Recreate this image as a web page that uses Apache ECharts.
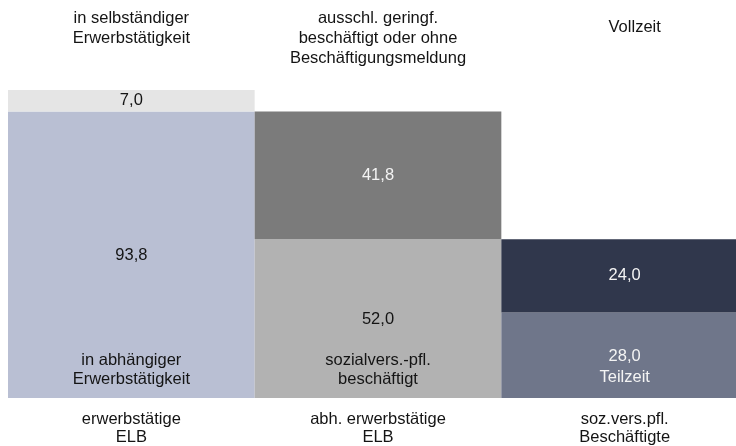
<!DOCTYPE html>
<html>
<head>
<meta charset="utf-8">
<script src="https://cdn.jsdelivr.net/npm/echarts@6/dist/echarts.min.js"></script>
<style>html,body{margin:0;padding:0;background:#fff;overflow:hidden;}#c{width:736px;height:446px;}</style>
</head>
<body>
<div id="c"></div>
<script>
const categories = ['erwerbstätige\nELB', 'abh. erwerbstätige\nELB', 'soz.vers.pfl.\nBeschäftigte'];
const lowerValues = [93.8, 52.0, 28.0];
const upperValues = [7.0, 41.8, 24.0];
const lowerNames = ['in abhängiger\nErwerbstätigkeit', 'sozialvers.-pfl.\nbeschäftigt', 'Teilzeit'];
const upperNames = ['in selbständiger\nErwerbstätigkeit', 'ausschl. geringf.\nbeschäftigt oder ohne\nBeschäftigungsmeldung', 'Vollzeit'];

const FONT = '"Liberation Sans", Arial, sans-serif';
const FS = 16.5;
const DARK = '#141414';
const LIGHT = '#f4f4f4';
const lowerColors = ['#b9bfd3', '#b2b2b2', '#6f768a'];
const upperColors = ['#e5e5e5', '#7b7b7b', '#30374c'];
const lowerLabelColors = [DARK, DARK, LIGHT];
const upperLabelColors = [DARK, LIGHT, LIGHT];

const fmt = v => v.toFixed(1).replace('.', ',');

const chart = echarts.init(document.getElementById('c'), null, {renderer: 'canvas'});
chart.setOption({
  animation: false,
  grid: {left: 8, width: 740, top: 62, bottom: 48, containLabel: false, outerBoundsMode: 'none'},
  xAxis: {
    type: 'category', data: categories,
    axisLine: {show: false}, axisTick: {show: false},
    axisLabel: {color: DARK, fontFamily: FONT, fontSize: FS, lineHeight: 18, margin: 12, interval: 0}
  },
  yAxis: {type: 'value', min: 0, max: 110, show: false, splitLine: {show: false}},
  series: [
    {
      type: 'bar', stack: 'a', barCategoryGap: '0%', barGap: '0%',
      data: lowerValues.map((v, i) => ({
        value: v,
        itemStyle: {color: lowerColors[i]},
        label: {
          show: true, position: 'inside', color: lowerLabelColors[i],
          formatter: i === 2 ? fmt(v) + '\n' + lowerNames[i] : fmt(v),
          offset: i === 2 ? [0, 12] : [0, 1],
          fontFamily: FONT, fontSize: FS, lineHeight: 21
        }
      }))
    },
    {
      type: 'bar', stack: 'a', barCategoryGap: '0%', barGap: '0%',
      data: upperValues.map((v, i) => ({
        value: v,
        itemStyle: {color: upperColors[i]},
        label: {
          show: true, position: 'inside', color: upperLabelColors[i],
          formatter: fmt(v), fontFamily: FONT, fontSize: FS
        }
      }))
    }
  ]
});

const headerY = [28, 38, 27];
const headerDX = [0, 0, 10];
const graphics = [];
upperNames.forEach((t, i) => {
  const p = chart.convertToPixel({gridIndex: 0}, [i, 0]);
  graphics.push({
    type: 'text', x: p[0] + headerDX[i], y: headerY[i], z: 100,
    style: {text: t, fill: DARK, font: FS + 'px ' + FONT, align: 'center', verticalAlign: 'middle', lineHeight: 20}
  });
});
[0, 1].forEach(i => {
  const p = chart.convertToPixel({gridIndex: 0}, [i, 0]);
  graphics.push({
    type: 'text', x: p[0], y: p[1] - 28, z: 100,
    style: {text: lowerNames[i], fill: DARK, font: FS + 'px ' + FONT, align: 'center', verticalAlign: 'middle', lineHeight: 19}
  });
});
chart.setOption({graphic: graphics});
</script>
</body>
</html>
